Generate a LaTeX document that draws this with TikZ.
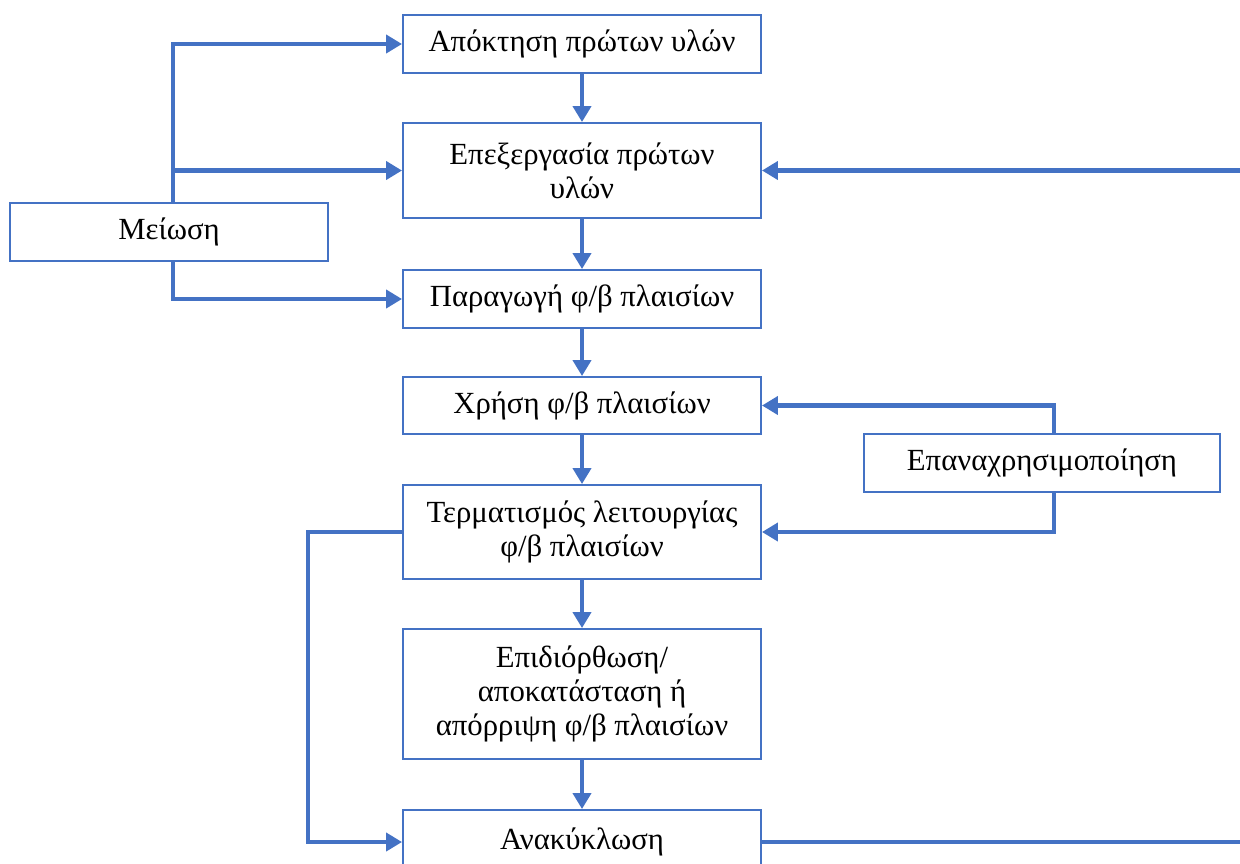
\documentclass[tikz,border=0pt]{standalone}
\usepackage{fontspec}
\setmainfont{Liberation Serif}
\usetikzlibrary{arrows.meta}
\definecolor{ob}{HTML}{4472C4}
\tikzset{
  box/.style={draw=ob, line width=1.1pt, fill=white, inner sep=0pt, align=center,
    font=\fontsize{17.5}{19.5}\selectfont},
  conn/.style={draw=ob, line width=2.8pt},
  arr/.style={conn, -{Triangle[length=0.32cm, width=0.36cm]}},
}
\begin{document}
\begin{tikzpicture}[x=0.02cm, y=-0.02cm]
\useasboundingbox (0,0) rectangle (1240,863);
\clip (0,0) rectangle (1240,863);
\newcommand{\bx}[6]{\node[box, minimum width=#4*0.02cm, minimum height=#5*0.02cm] (#1) at (#2,#3) {#6};}
\bx{b1}{582}{44}{358}{58}{Απόκτηση πρώτων υλών}
\bx{b2}{582}{170.5}{358}{95}{Επεξεργασία πρώτων\\υλών}
\bx{b3}{582}{299}{358}{58}{Παραγωγή φ/β πλαισίων}
\bx{b4}{582}{405.5}{358}{57}{Χρήση φ/β πλαισίων}
\bx{b5}{582}{532}{358}{94}{Τερματισμός λειτουργίας\\φ/β πλαισίων}
\bx{b6}{582}{694}{358}{130}{Επιδιόρθωση/\\αποκατάσταση ή\\απόρριψη φ/β πλαισίων}
\bx{b8}{582}{842}{358}{64}{Ανακύκλωση}
\bx{mei}{169}{232}{318}{58}{Μείωση}
\bx{epa}{1042}{463}{356}{58}{Επαναχρησιμοποίηση}
\coordinate (mx) at (173,232);
\coordinate (ex) at (1054,463);
\coordinate (lx) at (308,532);
\coordinate (r1) at (1242,170.5);
\coordinate (r2) at (1242,842);
% vertical chain
\draw[arr] (b1.south) -- (b2.north);
\draw[arr] (b2.south) -- (b3.north);
\draw[arr] (b3.south) -- (b4.north);
\draw[arr] (b4.south) -- (b5.north);
\draw[arr] (b5.south) -- (b6.north);
\draw[arr] (b6.south) -- (b8.north);
% reduction
\draw[arr] (mei.north -| mx) |- (b1.west);
\draw[arr] (mx |- b2.west) -- (b2.west);
\draw[arr] (mei.south -| mx) |- (b3.west);
% reuse
\draw[arr] (epa.north -| ex) |- (b4.east);
\draw[arr] (epa.south -| ex) |- (b5.east);
% left loop
\draw[arr] (b5.west) -- (lx) |- (b8.west);
% recycling loop (off picture)
\draw[arr] (r1) -- (b2.east);
\draw[conn] (b8.east) -- (r2);
\end{tikzpicture}
\end{document}
